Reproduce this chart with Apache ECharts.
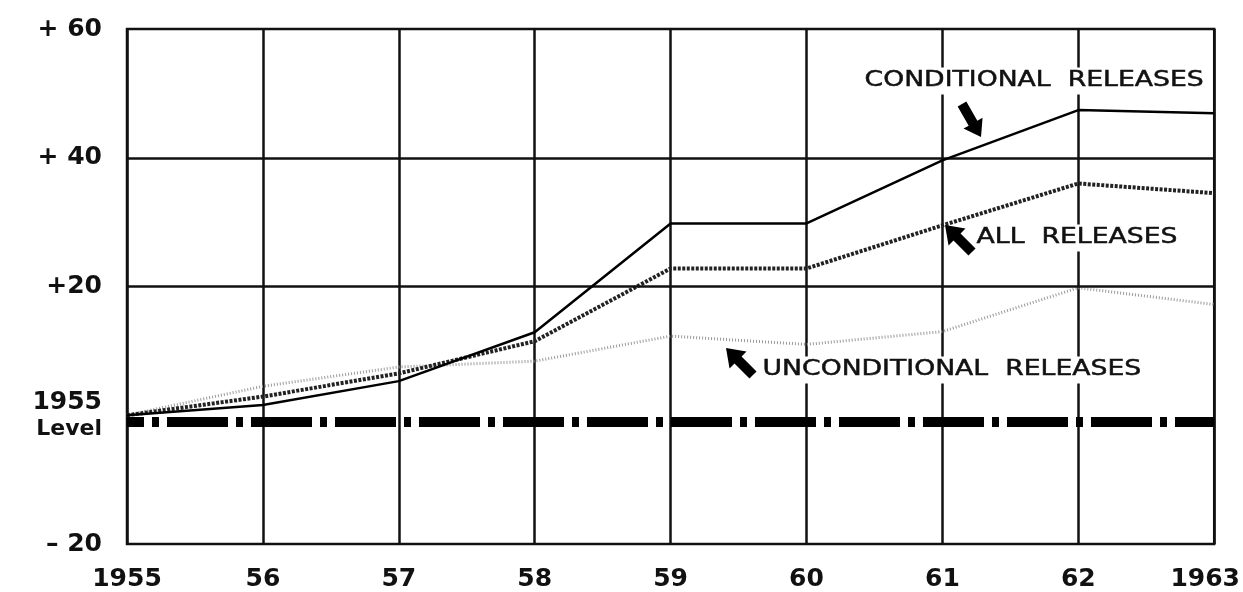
<!DOCTYPE html>
<html>
<head>
<meta charset="utf-8">
<script src="https://cdn.jsdelivr.net/npm/echarts@6/dist/echarts.min.js"></script>
<style>html,body{margin:0;padding:0;background:#fff}#c{width:1243px;height:592px}</style>
</head>
<body>
<div id="c"></div>
<script>
var years = ['1955','56','57','58','59','60','61','62','1963'];
var conditional = [0, 1.6, 5.3, 12.9, 29.8, 29.8, 39.6, 47.4, 46.9];
var allReleases = [0, 2.9, 6.5, 11.5, 22.8, 22.8, 29.5, 36.0, 34.5];
var unconditional = [0, 4.5, 7.5, 8.4, 12.3, 11.0, 13.0, 19.8, 17.2];
var yTickLabels = {'60':'+ 60','40':'+ 40','20':'+20','0':'1955\nLevel','-20':'– 20'};
var gridValues = [20, 40];
var baseLevel = -1;

var FONT = 'DejaVu Sans';

function arrow(tx, ty, hx, hy, headLen, headW, stemW){
  var dx = hx - tx, dy = hy - ty, L = Math.sqrt(dx*dx+dy*dy);
  var ux = dx/L, uy = dy/L, px = -uy, py = ux;
  var bx = hx - ux*headLen, by = hy - uy*headLen;
  return [
    [tx + px*stemW/2, ty + py*stemW/2],
    [bx + px*stemW/2, by + py*stemW/2],
    [bx + px*headW/2, by + py*headW/2],
    [hx, hy],
    [bx - px*headW/2, by - py*headW/2],
    [bx - px*stemW/2, by - py*stemW/2],
    [tx - px*stemW/2, ty - py*stemW/2]
  ];
}

function label(text, x, y){
  return {
    type:'text', x:x, y:y, scaleX:1.27, z:100,
    style:{text:text, fill:'#111', stroke:'#111', lineWidth:0.5, fontSize:21, fontFamily:FONT,
      align:'left', verticalAlign:'middle', backgroundColor:'#fff', padding:[3,2,3,2]}
  };
}

var chart = echarts.init(document.getElementById('c'));
chart.setOption({
  animation:false,
  backgroundColor:'#fff',
  grid:{left:127, right:27, top:29, bottom:48, show:true, borderColor:'#111', borderWidth:2.5},
  xAxis:{
    type:'category', data:years, boundaryGap:false,
    axisLine:{show:false}, axisTick:{show:false},
    splitLine:{show:true, interval:0, lineStyle:{color:'#111', width:2.5}},
    axisLabel:{
      interval:0, color:'#111', fontFamily:FONT, fontWeight:'bold', fontSize:25, margin:23,
      formatter:function(v){ return v === '1963' ? '{r|'+v+'}' : v; },
      rich:{r:{fontFamily:FONT, fontWeight:'bold', fontSize:25, color:'#111', padding:[0,18,0,0]}}
    }
  },
  yAxis:{
    type:'value', min:-20, max:60, interval:20,
    axisLine:{show:false}, axisTick:{show:false}, splitLine:{show:false},
    axisLabel:{
      color:'#111', fontFamily:FONT, fontWeight:'bold', fontSize:25, margin:25,
      formatter:function(v){
        if (v === 0) return '{a|1955}\n{b|Level}';
        return yTickLabels[String(v)];
      },
      rich:{
        a:{fontFamily:FONT, fontWeight:'bold', fontSize:25, color:'#111', lineHeight:28, align:'right'},
        b:{fontFamily:FONT, fontWeight:'bold', fontSize:22, color:'#111', lineHeight:26, align:'right'}
      }
    }
  },
  series:[
    {
      type:'line', data:unconditional, symbol:'none', z:3,
      lineStyle:{color:'#9a9a9a', width:3, type:[1,2]},
      markLine:{
        silent:true, symbol:['none','none'], label:{show:false},
        data:[
          {yAxis:gridValues[0], lineStyle:{color:'#111', width:2.5, type:'solid'}},
          {yAxis:gridValues[1], lineStyle:{color:'#111', width:2.5, type:'solid'}},
          {yAxis:baseLevel, lineStyle:{color:'#000', width:10, type:[61,8,7,8], dashOffset:44}}
        ]
      }
    },
    {
      type:'line', data:allReleases, symbol:'none', z:4,
      lineStyle:{color:'#222', width:4, type:[3,1.5]}
    },
    {
      type:'line', data:conditional, symbol:'none', z:5,
      lineStyle:{color:'#000', width:2.5}
    }
  ],
  graphic:[
    label('CONDITIONAL  RELEASES', 862, 81),
    label('ALL  RELEASES', 974, 238),
    label('UNCONDITIONAL  RELEASES', 760, 370),
    {type:'polygon', z:101, shape:{points:arrow(962,104,981,137,16,22,10)}, style:{fill:'#000'}},
    {type:'polygon', z:101, shape:{points:arrow(972,252,945,225,17,24,10)}, style:{fill:'#000'}},
    {type:'polygon', z:101, shape:{points:arrow(753,375,726,348,17,24,10)}, style:{fill:'#000'}}
  ]
});
</script>
</body>
</html>
